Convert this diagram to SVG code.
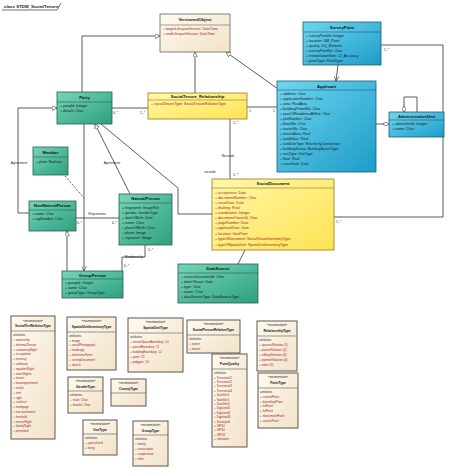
<svg xmlns="http://www.w3.org/2000/svg" width="453" height="476" viewBox="0 0 453 476">
<defs>
<linearGradient id="gT" x1="0" y1="0" x2="1" y2="1"><stop offset="0" stop-color="#74d6b8"/><stop offset="1" stop-color="#2e9f80"/></linearGradient>
<linearGradient id="gC" x1="0" y1="0" x2="1" y2="1"><stop offset="0" stop-color="#6fd6f0"/><stop offset="1" stop-color="#1c9cc8"/></linearGradient>
<linearGradient id="gY" x1="0" y1="0" x2="1" y2="1"><stop offset="0" stop-color="#fff7a8"/><stop offset="1" stop-color="#ffe354"/></linearGradient>
<linearGradient id="gB" x1="0" y1="0" x2="1" y2="1"><stop offset="0" stop-color="#fffaf0"/><stop offset="1" stop-color="#f2e2c8"/></linearGradient>
<marker id="tri" viewBox="0 0 10 10" refX="10" refY="5" markerWidth="5" markerHeight="5" markerUnits="userSpaceOnUse" orient="auto"><path d="M0 0 L10 5 L0 10 Z" fill="#fff" stroke="#333" stroke-width="1.2"/></marker>
<marker id="arr" viewBox="0 0 10 10" refX="10" refY="5" markerWidth="5" markerHeight="5" markerUnits="userSpaceOnUse" orient="auto"><path d="M0 0 L10 5 L0 10" fill="none" stroke="#333" stroke-width="1.2"/></marker>
<marker id="dia" viewBox="0 0 12 8" refX="12" refY="4" markerWidth="6" markerHeight="4" markerUnits="userSpaceOnUse" orient="auto"><path d="M0 4 L6 0 L12 4 L6 8 Z" fill="#fff" stroke="#333" stroke-width="1.2"/></marker>
<marker id="diaS" viewBox="0 0 12 8" refX="0" refY="4" markerWidth="6" markerHeight="4" markerUnits="userSpaceOnUse" orient="auto"><path d="M0 4 L6 0 L12 4 L6 8 Z" fill="#fff" stroke="#333" stroke-width="1.2"/></marker>
</defs>
<style>
.t{fill:url(#gT);stroke:#2d5a4d;stroke-width:0.8}
.c{fill:url(#gC);stroke:#1f5a70;stroke-width:0.8}
.y{fill:url(#gY);stroke:#8f7a22;stroke-width:0.8}
.b{fill:url(#gB);stroke:#6d625a;stroke-width:0.8}
.e{fill:url(#gB);stroke:#5f5650;stroke-width:1}
.dv{stroke-width:0.6}
.hd{font-family:"Liberation Sans",Arial,sans-serif;font-weight:bold;font-size:4.2px;fill:#111;text-anchor:middle}
.hs{font-family:"Liberation Sans",Arial,sans-serif;font-weight:bold;font-size:3.3px;fill:#111;text-anchor:middle}
.st{font-family:"Liberation Sans",Arial,sans-serif;font-size:3px;fill:#222;text-anchor:middle}
.at{font-family:"Liberation Sans",Arial,sans-serif;font-size:3.6px;fill:#1a1a1a}
.ar{font-family:"Liberation Sans",Arial,sans-serif;font-size:3.6px;fill:#9a1f1f}
.er{font-family:"Liberation Sans",Arial,sans-serif;font-size:3.1px;fill:#a02424}
.eg{font-family:"Liberation Sans",Arial,sans-serif;font-size:3px;fill:#333}
.ln{fill:none;stroke:#333;stroke-width:0.8}
.lb{font-family:"Liberation Sans",Arial,sans-serif;font-size:3.4px;fill:#222}
.lbc{font-family:"Liberation Sans",Arial,sans-serif;font-size:3.4px;fill:#222;text-anchor:middle}
</style>
<rect width="453" height="476" fill="#fff"/>
<g id="title">
<text x="4" y="8" font-family="Liberation Sans,Arial,sans-serif" font-size="4.4" font-weight="bold" fill="#222">class STDM_SocialTenure</text>
<path d="M2 10 H57 L61 3" fill="none" stroke="#333" stroke-width="0.7"/>
</g>
<g id="connectors">
<path class="ln" d="M82 92 V36 H160" marker-end="url(#tri)"/>
<path class="ln" d="M195 93 V52" marker-end="url(#tri)"/>
<path class="ln" d="M278 89 L226 52" marker-end="url(#tri)"/>
<path class="ln" d="M112 108 H148"/>
<text class="lb" x="113" y="114">0..*</text>
<text class="lb" x="140" y="114">1..*</text>
<path class="ln" d="M247 107 H277"/>
<text class="lb" x="249" y="112">1</text>
<text class="lb" x="273" y="112">1</text>
<path class="ln" d="M230 119 V179"/>
<text class="lb" x="233" y="124">1..*</text>
<text class="lbc" x="228" y="157">Records</text>
<text class="lbc" x="210" y="173">records</text>
<text class="lb" x="233" y="176">1..*</text>
<path class="ln" d="M338 65 L336 81" marker-end="url(#arr)"/>
<path class="ln" d="M381 45 H443 V217 H334"/>
<text class="lb" x="384" y="51">1..*</text>
<text class="lb" x="336" y="223">1..*</text>
<path class="ln" d="M376 124 H389" marker-end="url(#dia)"/>
<path class="ln" d="M404 112 V97 H417 V112" marker-start="url(#diaS)"/>
<path class="ln" d="M101 124 L178 188 V214 H212"/>
<path class="ln" d="M245 250 L238 264"/>
<path class="ln" d="M29 213 H18 V108 H57" marker-end="url(#tri)"/>
<text class="lbc" x="19" y="164">Agreement</text>
<path class="ln" d="M130 194 L95 124" marker-end="url(#tri)"/>
<text class="lbc" x="112" y="164">Agreement</text>
<path class="ln" d="M84 124 V271" marker-end="url(#arr)"/>
<path class="ln" d="M67 271 V231" marker-end="url(#tri)"/>
<path class="ln" d="M65 176 L84 198" stroke-dasharray="2 1.5"/>
<path class="ln" d="M76 218 H119"/>
<text class="lbc" x="97" y="215">Represents</text>
<text class="lb" x="77" y="224">0..*</text>
<text class="lb" x="112" y="224">0..*</text>
<path class="ln" d="M145 245 V257 H122 V271"/>
<text class="lbc" x="134" y="258">Membership</text>
<text class="lb" x="148" y="251">1..*</text>
<text class="lb" x="124" y="267">0..*</text>
</g>
<g id="VersionedObject">
<rect class="b" x="160" y="14" width="70" height="38"/>
<line class="b dv" x1="160" y1="25" x2="230" y2="25"/>
<text class="hd" x="195" y="21">VersionedObject</text>
<text class="ar" x="163" y="30">+ beginLifespanVersion: DateTime</text>
<text class="ar" x="163" y="35">+ endLifespanVersion: DateTime</text>
</g>
<g id="Party">
<rect class="t" x="57" y="92" width="55" height="32"/>
<line class="t dv" x1="57" y1="102" x2="112" y2="102"/>
<text class="hd" x="84.5" y="99">Party</text>
<text class="at" x="60" y="107">+ partyId: Integer</text>
<text class="at" x="60" y="112">+ details: Char</text>
</g>
<g id="SocialTenure_Relationship">
<rect class="y" x="148" y="93" width="99" height="26"/>
<line class="y dv" x1="148" y1="100" x2="247" y2="100"/>
<text class="hd" x="197.5" y="98">SocialTenure_Relationship</text>
<text class="ar" x="151" y="105">+ socialTenureType: SocialTenureRelationType</text>
</g>
<g id="SurveyPoint">
<rect class="c" x="303" y="22" width="78" height="43"/>
<line class="c dv" x1="303" y1="32" x2="381" y2="32"/>
<text class="hd" x="342" y="29">SurveyPoint</text>
<text class="at" x="306" y="37">+ surveyPointId: Integer</text>
<text class="at" x="306" y="42">+ location: GM_Point</text>
<text class="at" x="306" y="47">+ quality: DQ_Element</text>
<text class="at" x="306" y="52">+ surveyPointNo: Char</text>
<text class="at" x="306" y="57">+ interpolationRole: CI_Accuracy</text>
<text class="at" x="306" y="62">+ pointType: PointType</text>
</g>
<g id="Applicant">
<rect class="c" x="277" y="81" width="99" height="91"/>
<line class="c dv" x1="277" y1="90" x2="376" y2="90"/>
<text class="hd" x="326.5" y="87.5">Applicant</text>
<text class="at" x="280" y="95">+ address: Char</text>
<text class="at" x="280" y="100">+ applicationNumber: Char</text>
<text class="at" x="280" y="105">+ area: RealArea</text>
<text class="at" x="280" y="110">+ buildingPermitNo: Char</text>
<text class="at" x="280" y="115">+ yearOfResidenceAtSite: Char</text>
<text class="at" x="280" y="120">+ plotNumber: Char</text>
<text class="at" x="280" y="125">+ blockNo: Char</text>
<text class="at" x="280" y="130">+ sectorNo: Char</text>
<text class="at" x="280" y="135">+ tenureArea: Real</text>
<text class="at" x="280" y="140">+ landValue: Real</text>
<text class="at" x="280" y="145">+ landUseType: ElectricityConnection</text>
<text class="at" x="280" y="150">+ buildingStatus: BuildingStatusType</text>
<text class="at" x="280" y="155">+ useType: UseType</text>
<text class="at" x="280" y="160">+ floor: Real</text>
<text class="at" x="280" y="165">+ issueDate: Date</text>
</g>
<g id="AdministrativeUnit">
<rect class="c" x="389" y="112" width="55" height="25"/>
<line class="c dv" x1="389" y1="120" x2="444" y2="120"/>
<text class="hd" x="416.5" y="118">AdministrativeUnit</text>
<text class="at" x="392" y="125">+ adminUnitId: Integer</text>
<text class="at" x="392" y="130">+ name: Char</text>
</g>
<g id="SocialDocument">
<rect class="y" x="212" y="179" width="122" height="71"/>
<line class="y dv" x1="212" y1="188" x2="334" y2="188"/>
<text class="hd" x="273" y="185">SocialDocument</text>
<text class="ar" x="215" y="194">+ acceptance: Date</text>
<text class="ar" x="215" y="199">+ documentNumber: Char</text>
<text class="ar" x="215" y="204">+ issueDate: Date</text>
<text class="ar" x="215" y="209">+ drafting: Real</text>
<text class="ar" x="215" y="214">+ coordinates: Integer</text>
<text class="ar" x="215" y="219">+ documentOwnerId: Char</text>
<text class="ar" x="215" y="224">+ pageNumber: Date</text>
<text class="ar" x="215" y="229">+ approvalDate: Date</text>
<text class="ar" x="215" y="235">+ location: GeoPoint</text>
<text class="ar" x="215" y="240">+ typeOfDocument: SocialTenureInventoryType</text>
<text class="ar" x="215" y="246">+ typeOfSpatialUnit: SpatialUnitInventoryType</text>
</g>
<g id="DataSource">
<rect class="t" x="178" y="264" width="80" height="39"/>
<line class="t dv" x1="178" y1="273" x2="258" y2="273"/>
<text class="hd" x="218" y="270">DataSource</text>
<text class="at" x="181" y="278">+ sourceDocumentId: Char</text>
<text class="at" x="181" y="283">+ dateOfIssue: Date</text>
<text class="at" x="181" y="288">+ type: Char</text>
<text class="at" x="181" y="293">+ name: Char</text>
<text class="at" x="181" y="298">+ dataSourceType: DataSourceType</text>
</g>
<g id="Member">
<rect class="t" x="33" y="147" width="35" height="28"/>
<line class="t dv" x1="33" y1="157" x2="68" y2="157"/>
<text class="hd" x="50.5" y="154">Member</text>
<text class="at" x="36" y="163">+ plain: Boolean</text>
</g>
<g id="NonNaturalPerson">
<rect class="t" x="29" y="201" width="47" height="30"/>
<line class="t dv" x1="29" y1="210" x2="76" y2="210"/>
<text class="hd" x="52.5" y="207">NonNaturalPerson</text>
<text class="at" x="32" y="215">+ name: Char</text>
<text class="at" x="32" y="220">+ regNumber: Char</text>
</g>
<g id="NaturalPerson">
<rect class="t" x="119" y="194" width="53" height="51"/>
<line class="t dv" x1="119" y1="203" x2="172" y2="203"/>
<text class="hd" x="145.5" y="200">NaturalPerson</text>
<text class="at" x="122" y="209">+ fingerprint: ImageRef</text>
<text class="at" x="122" y="214">+ gender: GenderType</text>
<text class="at" x="122" y="219">+ dateOfBirth: Date</text>
<text class="at" x="122" y="224">+ name: Char</text>
<text class="at" x="122" y="229">+ placeOfBirth: Char</text>
<text class="at" x="122" y="234">+ photo: Image</text>
<text class="at" x="122" y="239">+ signature: Image</text>
</g>
<g id="GroupPerson">
<rect class="t" x="62" y="271" width="61" height="27"/>
<line class="t dv" x1="62" y1="279" x2="123" y2="279"/>
<text class="hd" x="92.5" y="277">GroupPerson</text>
<text class="at" x="65" y="284">+ groupId: Integer</text>
<text class="at" x="65" y="289">+ name: Char</text>
<text class="at" x="65" y="294">+ groupType: GroupType</text>
</g>
<g id="SocialTenRelationType">
<rect class="e" x="11" y="316" width="44" height="123"/>
<line class="e dv" x1="11" y1="331" x2="55" y2="331"/>
<text class="st" x="33" y="321.5">«enumeration»</text>
<text class="hs" x="33" y="327">SocialTenRelationType</text>
<text class="eg" x="13" y="336">attributes</text>
<text class="er" x="13" y="341">+ ownership</text>
<text class="er" x="13" y="345.8">+ informalTenure</text>
<text class="er" x="13" y="350.6">+ customaryRight</text>
<text class="er" x="13" y="355.4">+ occupation</text>
<text class="er" x="13" y="360.2">+ tenancy</text>
<text class="er" x="13" y="365">+ sublease</text>
<text class="er" x="13" y="369.8">+ squatterRight</text>
<text class="er" x="13" y="374.6">+ staticRights</text>
<text class="er" x="13" y="379.4">+ tenant</text>
<text class="er" x="13" y="384.2">+ leaseagreement</text>
<text class="er" x="13" y="389">+ rental</text>
<text class="er" x="13" y="393.8">+ rent</text>
<text class="er" x="13" y="398.6">+ right</text>
<text class="er" x="13" y="403.4">+ usufruct</text>
<text class="er" x="13" y="408.2">+ mortgage</text>
<text class="er" x="13" y="413">+ encroachment</text>
<text class="er" x="13" y="417.8">+ freehold</text>
<text class="er" x="13" y="422.6">+ tenureRight</text>
<text class="er" x="13" y="427.4">+ familyRight</text>
<text class="er" x="13" y="432.2">+ permitted</text>
</g>
<g id="SpatialUnitInventoryType">
<rect class="e" x="67" y="317" width="49" height="53"/>
<line class="e dv" x1="67" y1="332" x2="116" y2="332"/>
<text class="st" x="91.5" y="322">«enumeration»</text>
<text class="hs" x="91.5" y="328">SpatialUnitInventoryType</text>
<text class="eg" x="69" y="337">attributes</text>
<text class="er" x="69" y="341.5">+ image</text>
<text class="er" x="69" y="346.3">+ aerialPhotograph</text>
<text class="er" x="69" y="351.1">+ hardcopy</text>
<text class="er" x="69" y="355.9">+ electronicForm</text>
<text class="er" x="69" y="360.7">+ surveyDocument</text>
<text class="er" x="69" y="365.5">+ sketch</text>
</g>
<g id="SpatialUnitType">
<rect class="e" x="128" y="318" width="55" height="54"/>
<line class="e dv" x1="128" y1="333" x2="183" y2="333"/>
<text class="st" x="155.5" y="323">«enumeration»</text>
<text class="hs" x="155.5" y="329">SpatialUnitType</text>
<text class="eg" x="130" y="338">attributes</text>
<text class="er" x="130" y="343">+ tenureSpaceBoundary: 10</text>
<text class="er" x="130" y="348">+ parcelBoundary: 11</text>
<text class="er" x="130" y="353">+ buildingBoundary: 12</text>
<text class="er" x="130" y="358">+ point: 13</text>
<text class="er" x="130" y="363">+ polygon: 14</text>
</g>
<g id="SocialPersonRelationType">
<rect class="e" x="187" y="320" width="53" height="33"/>
<line class="e dv" x1="187" y1="335" x2="240" y2="335"/>
<text class="st" x="213.5" y="325">«enumeration»</text>
<text class="hs" x="213.5" y="331">SocialPersonRelationType</text>
<text class="eg" x="189" y="340">attributes</text>
<text class="er" x="189" y="345">+ owner</text>
<text class="er" x="189" y="350">+ tenant</text>
</g>
<g id="PointQuality">
<rect class="e" x="212" y="354" width="35" height="93"/>
<line class="e dv" x1="212" y1="369" x2="247" y2="369"/>
<text class="st" x="229.5" y="359">«enumeration»</text>
<text class="hs" x="229.5" y="365">PointQuality</text>
<text class="eg" x="214" y="374">attributes</text>
<text class="er" x="214" y="378.5">+ Terrestrial1</text>
<text class="er" x="214" y="382.9">+ Terrestrial2</text>
<text class="er" x="214" y="387.3">+ Terrestrial3</text>
<text class="er" x="214" y="391.7">+ Terrestrial4</text>
<text class="er" x="214" y="396.1">+ Satellite1</text>
<text class="er" x="214" y="400.5">+ Satellite2</text>
<text class="er" x="214" y="404.9">+ Satellite3</text>
<text class="er" x="214" y="409.3">+ Digitized1</text>
<text class="er" x="214" y="413.7">+ Digitized2</text>
<text class="er" x="214" y="418.1">+ Digitized3</text>
<text class="er" x="214" y="422.5">+ Surveyed</text>
<text class="er" x="214" y="426.9">+ GPS1</text>
<text class="er" x="214" y="431.3">+ GPS2</text>
<text class="er" x="214" y="435.7">+ GPS3</text>
<text class="er" x="214" y="440.1">+ unknown</text>
</g>
<g id="RelationshipType">
<rect class="e" x="257" y="321" width="40" height="50"/>
<line class="e dv" x1="257" y1="336" x2="297" y2="336"/>
<text class="st" x="277" y="326">«enumeration»</text>
<text class="hs" x="277" y="332">RelationshipType</text>
<text class="eg" x="259" y="341">attributes</text>
<text class="er" x="259" y="346">+ spouseRelation (1)</text>
<text class="er" x="259" y="351">+ parentRelation (2)</text>
<text class="er" x="259" y="356">+ siblingRelation (3)</text>
<text class="er" x="259" y="361">+ partnerRelation (4)</text>
<text class="er" x="259" y="366">+ other (5)</text>
</g>
<g id="PointType">
<rect class="e" x="258" y="373" width="40" height="55"/>
<line class="e dv" x1="258" y1="388" x2="298" y2="388"/>
<text class="st" x="278" y="378">«enumeration»</text>
<text class="hs" x="278" y="384">PointType</text>
<text class="eg" x="260" y="393">attributes</text>
<text class="er" x="260" y="398">+ controlPoint</text>
<text class="er" x="260" y="402.7">+ boundaryPoint</text>
<text class="er" x="260" y="407.4">+ tiePoint</text>
<text class="er" x="260" y="412.1">+ fixPoint</text>
<text class="er" x="260" y="416.8">+ monumentPoint</text>
<text class="er" x="260" y="421.5">+ cornerPoint</text>
</g>
<g id="GenderType">
<rect class="e" x="68" y="377" width="35" height="36"/>
<line class="e dv" x1="68" y1="391" x2="103" y2="391"/>
<text class="st" x="85.5" y="382">«enumeration»</text>
<text class="hs" x="85.5" y="388">GenderType</text>
<text class="eg" x="70" y="396">attributes</text>
<text class="er" x="70" y="401">+ male: Char</text>
<text class="er" x="70" y="405.5">+ female: Char</text>
</g>
<g id="CountyType">
<rect class="e" x="111" y="379" width="35" height="27"/>
<line class="e dv" x1="111" y1="393" x2="146" y2="393"/>
<text class="st" x="128.5" y="384">«enumeration»</text>
<text class="hs" x="128.5" y="390">CountyType</text>
</g>
<g id="UseType">
<rect class="e" x="83" y="420" width="34" height="35"/>
<line class="e dv" x1="83" y1="434" x2="117" y2="434"/>
<text class="st" x="100" y="425">«enumeration»</text>
<text class="hs" x="100" y="431">UseType</text>
<text class="eg" x="85" y="439">attributes</text>
<text class="er" x="85" y="444">+ agricultural</text>
<text class="er" x="85" y="449">+ living</text>
</g>
<g id="GroupType">
<rect class="e" x="133" y="421" width="35" height="45"/>
<line class="e dv" x1="133" y1="435" x2="168" y2="435"/>
<text class="st" x="150.5" y="426">«enumeration»</text>
<text class="hs" x="150.5" y="432">GroupType</text>
<text class="eg" x="135" y="440">attributes</text>
<text class="er" x="135" y="445">+ family</text>
<text class="er" x="135" y="450">+ association</text>
<text class="er" x="135" y="455">+ cooperative</text>
<text class="er" x="135" y="460">+ tribe</text>
</g>
</svg>
